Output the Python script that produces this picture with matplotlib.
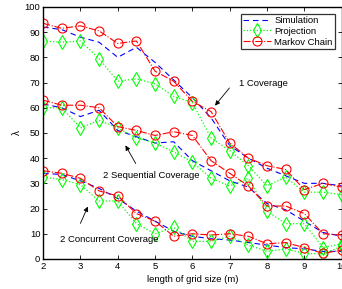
import matplotlib
matplotlib.use("Agg")
import matplotlib.pyplot as plt

plt.rcParams['font.family'] = ['Liberation Sans', 'DejaVu Sans']

grid_size = [2, 2.5, 3, 3.5, 4, 4.5, 5, 5.5, 6, 6.5, 7, 7.5, 8, 8.5, 9, 9.5, 10]

# 1 Coverage
sim1 = [92, 91, 88, 86, 80, 84, 78, 71, 64, 56, 45, 40, 36, 33, 30, 30, 29]
proj1 = [86.5, 86, 86.5, 79.5, 70.5, 71.5, 69.5, 64.5, 62, 48, 43, 37, 29, 32.5, 26.5, 26.5, 25.5]
mc1 = [93.5, 91.5, 92.5, 90.5, 85.5, 86.5, 74.5, 70.5, 62.5, 58.5, 46, 40, 37, 35.5, 27.5, 30, 28.5]

# 2 Sequential Coverage
sim2 = [61.5, 60, 56.5, 59, 51, 48.5, 46, 46.5, 39, 35, 31, 28.5, 22, 19.5, 15, 10.5, 9]
proj2 = [60, 60, 52, 55, 52, 48, 46, 42.5, 38.5, 32, 29, 32, 19, 14, 14, 4.5, 6]
mc2 = [63, 61, 61, 60, 52.5, 51, 49, 50.5, 49, 39, 34, 29, 21, 21, 18, 10, 9.5]

# 2 Concurrent Coverage
sim3 = [34, 33.5, 31, 28, 24, 19, 15, 11, 9, 8, 7.5, 6.5, 5.5, 4.5, 4, 3, 3]
proj3 = [32.5, 31.5, 29.5, 23, 23, 14, 10, 12.5, 7, 7, 9, 5.5, 3, 4, 2.2, 2, 5]
mc3 = [35, 34, 32, 27, 25, 18, 15, 9, 10, 9.5, 10, 9, 6, 6.5, 4.5, 2.2, 3.5]

xticks = [2, 3, 4, 5, 6, 7, 8, 9, 10]
yticks = [0, 10, 20, 30, 40, 50, 60, 70, 80, 90, 100]

fig = plt.figure(figsize=(3.42, 2.89), dpi=100)
ax = fig.add_axes([0.126, 0.104, 0.873, 0.872])

sim_style = dict(color=(0, 0, 1), linestyle='--', linewidth=0.8, dashes=(5, 3.5))
proj_style = dict(color=(0, 1, 0), linestyle=':', linewidth=0.9, marker='d',
                  markersize=7, markerfacecolor='none', markeredgecolor=(0, 1, 0), markeredgewidth=0.8)
mc_style = dict(color=(1, 0, 0), linestyle='-.', linewidth=0.8, marker='o',
                markersize=6.5, markerfacecolor='none', markeredgecolor=(1, 0, 0), markeredgewidth=0.8)

ax.plot(grid_size, sim1, label='Simulation', **sim_style)
ax.plot(grid_size, proj1, label='Projection', **proj_style)
ax.plot(grid_size, mc1, label='Markov Chain', **mc_style)
for s, p, m in [(sim2, proj2, mc2), (sim3, proj3, mc3)]:
    ax.plot(grid_size, s, **sim_style)
    ax.plot(grid_size, p, **proj_style)
    ax.plot(grid_size, m, **mc_style)

ax.set_xlim(2, 10)
ax.set_ylim(0, 100)
ax.set_xticks(xticks)
ax.set_yticks(yticks)
ax.tick_params(direction='in', length=3, width=0.6, labelsize=6.8, top=True, right=True, pad=2)
for sp in ax.spines.values():
    sp.set_linewidth(1.0)

ax.set_xlabel('length of grid size (m)', fontsize=6.8, labelpad=3)
ax.set_ylabel('λ', fontsize=7, labelpad=2)

leg = ax.legend(loc='upper right', fontsize=6.8, frameon=True, fancybox=False,
                edgecolor='black', borderaxespad=0.7, handlelength=3.0,
                borderpad=0.25, labelspacing=0.2, handletextpad=0.3)
leg.get_frame().set_linewidth(0.9)

arrow = dict(arrowstyle='-|>', color='black', lw=0.6, mutation_scale=7)
ax.text(7.25, 69.8, '1 Coverage', fontsize=6.8, ha='left', va='center')
ax.annotate('', xy=(6.56, 60), xytext=(7.04, 68.7), arrowprops=arrow)
ax.text(3.61, 33.1, '2 Sequential Coverage', fontsize=6.8, ha='left', va='center')
ax.annotate('', xy=(4.17, 46), xytext=(4.52, 36.9), arrowprops=arrow)
ax.text(2.46, 7.9, '2 Concurrent Coverage', fontsize=6.8, ha='left', va='center')
ax.annotate('', xy=(3.23, 21.8), xytext=(2.97, 13.1), arrowprops=arrow)

fig.savefig('out.png', dpi=100)
